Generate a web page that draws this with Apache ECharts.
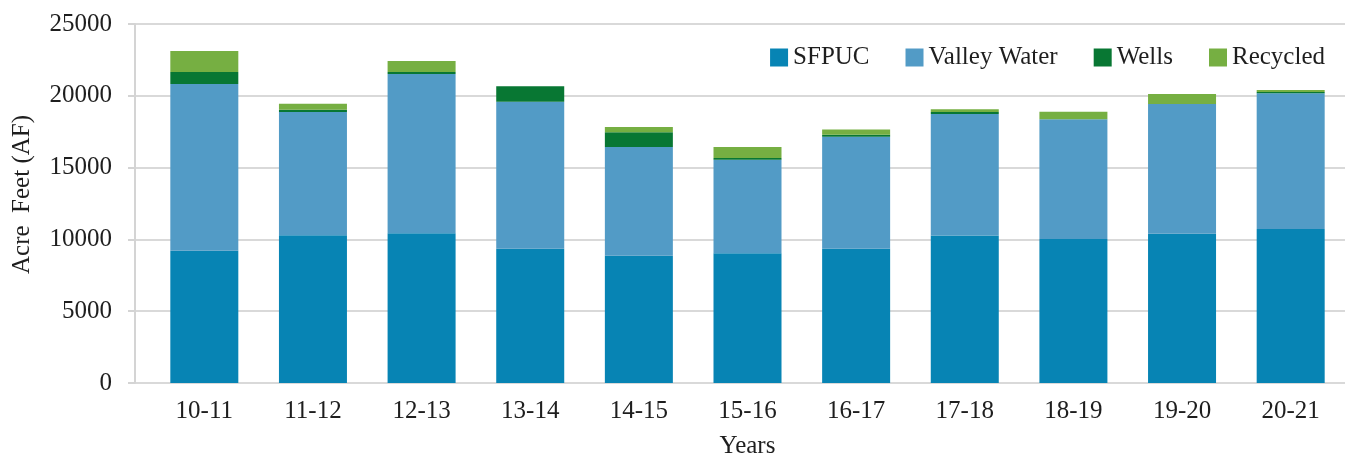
<!DOCTYPE html>
<html>
<head>
<meta charset="utf-8">
<script src="https://cdn.jsdelivr.net/npm/echarts@6/dist/echarts.min.js"></script>
<style>
  html, body { margin: 0; padding: 0; background: #fff; }
  #chart { width: 1357px; height: 458px; }
</style>
</head>
<body>
<div id="chart"></div>
<script>
// Water supply by source, acre feet per fiscal year
const years = ['10-11', '11-12', '12-13', '13-14', '14-15', '15-16', '16-17', '17-18', '18-19', '19-20', '20-21'];
const sfpuc = [9210, 10290, 10430, 9350, 8870, 9030, 9350, 10280, 10030, 10400, 10720];
const valleyWater = [11610, 8590, 11090, 10240, 7570, 6520, 7800, 8450, 8330, 9030, 9450];
const wells = [840, 140, 140, 1070, 1020, 120, 140, 140, 0, 0, 90];
const recycled = [1460, 420, 770, 0, 370, 770, 370, 190, 530, 700, 140];
const yTicks = { min: 0, max: 25000, interval: 5000 };

const FONT = '"Liberation Serif", "Times New Roman", serif';
const TEXT = '#1e1e1e';
const FS = 25;
const colors = ['#0784b4', '#529bc6', '#087733', '#76af42'];

const chart = echarts.init(document.getElementById('chart'));

function barSeries(name, data, color) {
  return {
    name, type: 'bar', stack: 'total', data,
    xAxisIndex: 1, yAxisIndex: 1,
    barWidth: 68,
    itemStyle: { color },
    emphasis: { disabled: true }
  };
}

chart.setOption({
  animation: false,
  textStyle: { fontFamily: FONT, color: TEXT },
  legend: {
    top: 40, right: 27,
    itemWidth: 18, itemHeight: 18, itemGap: 36,
    icon: 'rect',
    textStyle: { fontFamily: FONT, fontSize: FS, color: TEXT },
    data: ['SFPUC', 'Valley Water', 'Wells', 'Recycled']
  },
  grid: [
    { left: 135, right: 12, top: 24, bottom: 75, outerBoundsMode: 'none' },
    { left: 150, right: 12, top: 24, bottom: 75, outerBoundsMode: 'none' }
  ],
  xAxis: [
    { type: 'value', gridIndex: 0, show: false, min: 0, max: 1 },
    {
      type: 'category', gridIndex: 1, data: years,
      axisLine: { show: false }, axisTick: { show: false },
      axisLabel: { fontFamily: FONT, fontSize: FS, color: TEXT, margin: 16 },
      name: 'Years', nameLocation: 'middle', nameGap: 51,
      nameTextStyle: { fontFamily: FONT, fontSize: FS, color: TEXT }
    }
  ],
  yAxis: [
    {
      type: 'value', gridIndex: 0,
      min: yTicks.min, max: yTicks.max, interval: yTicks.interval,
      axisLine: { show: true, lineStyle: { color: '#d4d4d4', width: 2 } },
      axisTick: { show: true, length: 7, lineStyle: { color: '#d4d4d4', width: 2 } },
      splitLine: { show: true, lineStyle: { color: '#d9d9d9', width: 2 } },
      axisLabel: { fontFamily: FONT, fontSize: FS, color: TEXT, margin: 23, formatter: v => String(v) },
      name: 'Acre  Feet (AF)', nameLocation: 'middle', nameGap: 100,
      nameTextStyle: { fontFamily: FONT, fontSize: FS, color: TEXT, padding: [0, 0, 0, 18] }
    },
    {
      type: 'value', gridIndex: 1, show: false,
      min: yTicks.min, max: yTicks.max, interval: yTicks.interval
    }
  ],
  series: [
    barSeries('SFPUC', sfpuc, colors[0]),
    barSeries('Valley Water', valleyWater, colors[1]),
    barSeries('Wells', wells, colors[2]),
    barSeries('Recycled', recycled, colors[3])
  ]
});
</script>
</body>
</html>
